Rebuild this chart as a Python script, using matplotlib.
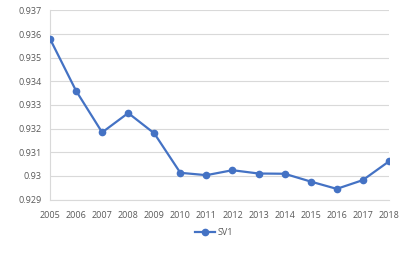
import matplotlib
matplotlib.use("Agg")
import matplotlib.pyplot as plt

years = ["2005", "2006", "2007", "2008", "2009", "2010", "2011", "2012",
         "2013", "2014", "2015", "2016", "2017", "2018"]
sv1 = [0.93580, 0.93360, 0.93184, 0.93266, 0.93180, 0.93013, 0.93003,
       0.93024, 0.93010, 0.93009, 0.92976, 0.92945, 0.92982, 0.93061]
yticks = [0.929, 0.930, 0.931, 0.932, 0.933, 0.934, 0.935, 0.936, 0.937]
ytick_labels = ["0.929", "0.93", "0.931", "0.932", "0.933", "0.934", "0.935", "0.936", "0.937"]

plt.rcParams['font.family'] = ['Open Sans', 'DejaVu Sans']
fig = plt.figure(figsize=(4.15, 2.56), dpi=100)
ax = fig.add_axes([0.1205, 0.2207, 0.8165, 0.7383])

x = list(range(len(years)))
ax.plot(x, sv1, color="#4472C4", lw=1.6, marker="o", ms=4.5, label="SV1", zorder=3)

ax.set_xlim(0, len(years) - 1)
ax.set_ylim(0.929, 0.937)
ax.set_yticks(yticks)
ax.set_yticklabels(ytick_labels)
ax.set_xticks(x)
ax.set_xticklabels(years)
ax.tick_params(axis="both", length=0, labelsize=6.5, labelcolor="#595959")
ax.tick_params(axis="x", pad=8)
ax.tick_params(axis="y", pad=6)
ax.grid(axis="y", color="#D9D9D9", lw=0.8)
ax.set_axisbelow(True)
for s in ["top", "right"]:
    ax.spines[s].set_visible(False)
ax.spines["left"].set_color("#D9D9D9")
ax.spines["bottom"].set_color("#D9D9D9")
ax.spines["left"].set_linewidth(0.8)
ax.spines["bottom"].set_linewidth(0.8)

fig.legend(loc="center", bbox_to_anchor=(0.515, 0.09), frameon=False,
           fontsize=6.5, labelcolor="#595959", handlelength=2.2, handletextpad=0.3)

fig.savefig("out.png", dpi=100)
